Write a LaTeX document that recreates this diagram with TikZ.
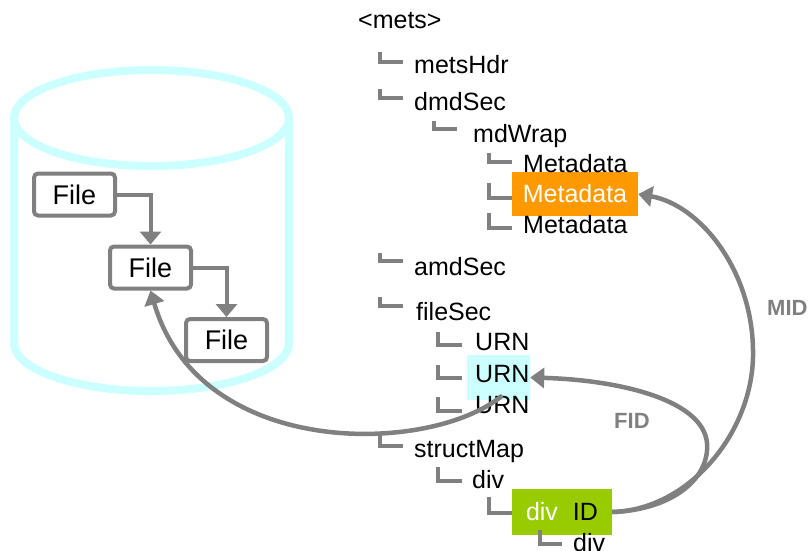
\documentclass[tikz,border=0pt]{standalone}
\usepackage{fontspec}
\setmainfont{Liberation Sans}
\usetikzlibrary{arrows.meta}
\definecolor{lgray}{HTML}{808080}
\definecolor{cyl}{HTML}{CCFFFF}
\definecolor{orng}{HTML}{FF9900}
\definecolor{grn}{HTML}{99CC00}
\begin{document}
\begin{tikzpicture}[x=1pt,y=-1pt,
 lbl/.style={anchor=base west, inner sep=0pt, font=\fontsize{25}{30}\selectfont},
 tree/.style={draw=lgray, line width=4pt},
 filebox/.style={draw=lgray, line width=4pt, rounded corners=4pt, fill=white, minimum width=81pt, minimum height=42pt, inner sep=0pt, font=\fontsize{27}{32}\selectfont},
 hibox/.style={inner sep=0pt, draw=none},
 link/.style={draw=lgray, line width=4.5pt, -{Triangle[length=14pt,width=20pt]}},
 flow/.style={draw=lgray, line width=4pt, -{Triangle[length=13pt,width=21pt]}},
 tag/.style={text=lgray, font=\fontsize{22}{26}\selectfont\bfseries, anchor=base west, inner sep=0pt}
]
\useasboundingbox (0,0) rectangle (808,550);
\fill[white] (0,0) rectangle (808,550);

% cylinder
\draw[cyl, line width=8pt] (151.5,118) ellipse [x radius=137.5, y radius=48];
\draw[cyl, line width=8pt] (14,118) -- (14,343) arc[start angle=180, end angle=360, x radius=137.5, y radius=-48] -- (289,118);

% files
\node[filebox] (f1) at (74.5,194.5) {File};
\node[filebox] (f2) at (150.5,267.5) {File};
\node[filebox] (f3) at (226.5,340) {File};
\draw[flow] (f1.east) -| (f2.north);
\draw[flow] (f2.east) -| (f3.north);

% highlight boxes
\node[hibox, fill=orng, minimum width=126pt, minimum height=44pt, text=white, font=\fontsize{25}{30}\selectfont] (meta2) at (575,194) {Metadata};
\node[hibox, fill=cyl, minimum width=63pt, minimum height=45pt] (urnbox) at (498.5,377.5) {};
\node[hibox, fill=grn, minimum width=100pt, minimum height=46pt, font=\fontsize{25}{30}\selectfont] (divbox) at (562,512) {\textcolor{white}{div}\hspace{15pt}ID};

% tree labels
\node[lbl] (mets) at (358,28) {<mets>};
\node[lbl] (metsHdr) at (414,73) {metsHdr};
\node[lbl] (dmdSec) at (414,110) {dmdSec};
\node[lbl] (mdWrap) at (473,142) {mdWrap};
\node[lbl] (meta1) at (523,172) {Metadata};
\node[lbl] (meta3) at (523,233) {Metadata};
\node[lbl] (amdSec) at (414,275) {amdSec};
\node[lbl] (fileSec) at (416,320) {fileSec};
\node[lbl] (urn1) at (475,350) {URN};
\node[lbl] (urn2) at (475,382) {URN};
\node[lbl] (urn3) at (475,413) {URN};
\node[lbl] (structMap) at (414,457) {structMap};
\node[lbl] (div1) at (472,488) {div};
\node[lbl] (div3) at (573,551) {div};

% tree elbows
\draw[tree] (380,52) |- (403,62);
\draw[tree] (380,89) |- (403,98);
\draw[tree] (434,121) |- (457,129);
\draw[tree] (489,153) |- (512,162);
\draw[tree] (489,183) |- (512,198);
\draw[tree] (489,213) |- (512,228);
\draw[tree] (380,253) |- (403,261);
\draw[tree] (380,297) |- (403,306);
\draw[tree] (438,332) |- (462,345);
\draw[tree] (438,365) |- (462,378);
\draw[tree] (438,397) |- (462,411);
\draw[tree] (380,433) |- (403,446);
\draw[tree] (438,467) |- (462,481);
\draw[tree] (489,497) |- (512,513);
\draw[tree] (540,530) |- (562,544);

% links
\draw[link] (urn3.north) .. controls (430,455) and (200,460) .. (f2.south);
\draw[link] (divbox.east) .. controls (690,510) and (755,430) .. (753,350) .. controls (752,270) and (700,205) .. (meta2.east);
\draw[link] (divbox.east) .. controls (670,510) and (710,480) .. (707,443) .. controls (703,400) and (620,380) .. (urnbox.east);

% labels
\node[tag] (mid) at (767,315) {MID};
\node[tag] (fid) at (614,428) {FID};
\end{tikzpicture}
\end{document}
